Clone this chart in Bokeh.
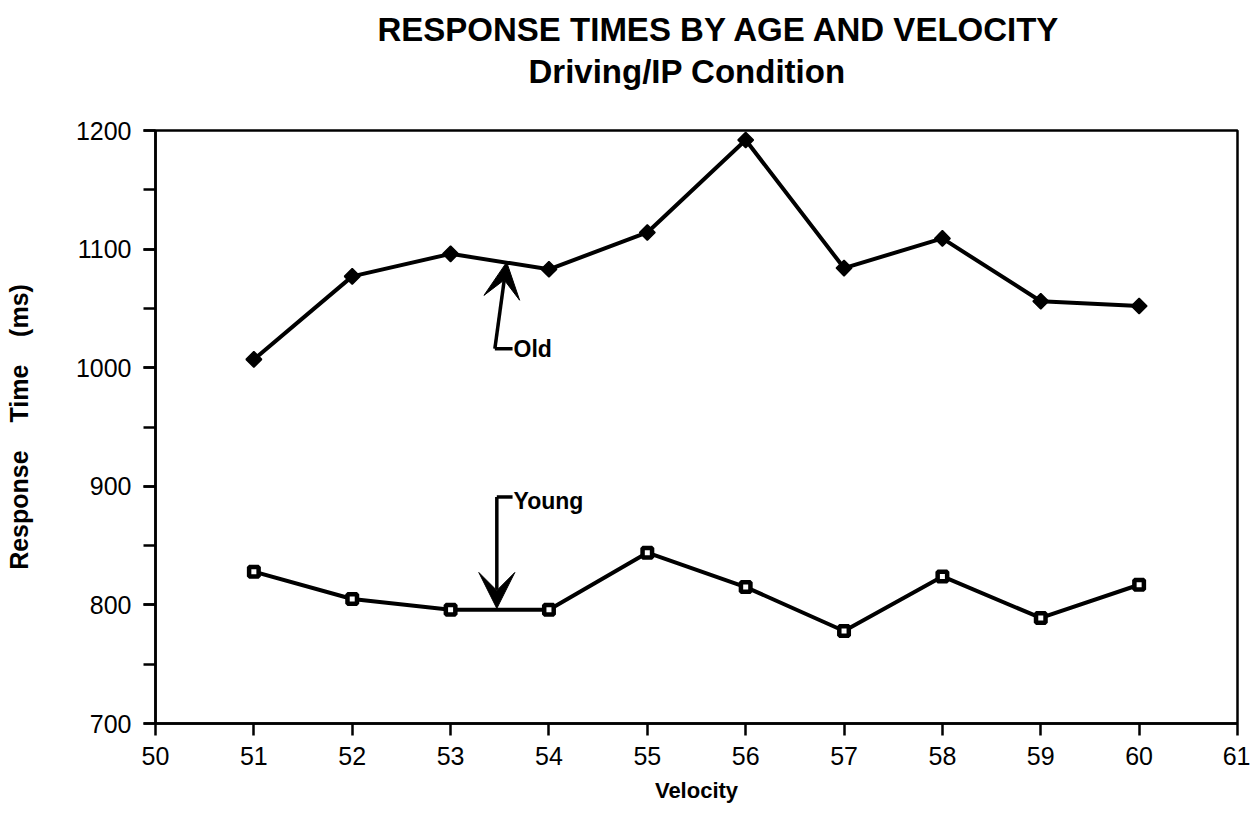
from bokeh.plotting import figure
from bokeh.models import Title, Arrow, VeeHead, Label, SingleIntervalTicker, ColumnDataSource
from bokeh.embed import file_html
from bokeh.resources import INLINE

# ---- data ----
velocity = [51, 52, 53, 54, 55, 56, 57, 58, 59, 60]
old_rt = [1007, 1077, 1096, 1083, 1114, 1192, 1084, 1109, 1056, 1052]
young_rt = [828, 805, 796, 796, 844, 815, 778, 824, 789, 817]
x_ticks = [50, 51, 52, 53, 54, 55, 56, 57, 58, 59, 60, 61]
y_ticks = [700, 800, 900, 1000, 1100, 1200]

title_line1 = "RESPONSE TIMES BY AGE AND VELOCITY"
title_line2 = "Driving/IP Condition"

FONT = "Liberation Sans"

p = figure(
    title=None,
    x_range=(50, 61), y_range=(700, 1200),
    frame_width=1082, frame_height=593,
    min_border_left=155, min_border_right=13,
    min_border_top=130, min_border_bottom=97,
    output_backend="svg", toolbar_location=None,
    background_fill_color="white", border_fill_color="white",
)

# heading lines (sub-title first: closest to the frame)
p.add_layout(Title(text=title_line2, align="left", offset=373,
                   text_font=FONT, text_font_size="33px", text_font_style="bold",
                   text_color="black", standoff=82), "above")
p.add_layout(Title(text=title_line1, align="left", offset=222,
                   text_font=FONT, text_font_size="33px", text_font_style="bold",
                   text_color="black", standoff=-76), "above")

p.grid.visible = False
p.outline_line_color = "black"
p.outline_line_width = 2.5

# x axis
xa = p.below[0]
xa.ticker = x_ticks
xa.axis_label = "Velocity"
xa.axis_label_text_font = FONT
xa.axis_label_text_font_size = "22px"
xa.axis_label_text_font_style = "bold"
xa.axis_label_standoff = 10
xa.major_label_text_font = FONT
xa.major_label_text_font_size = "25px"
xa.major_label_standoff = 11
xa.major_tick_out = 12
xa.major_tick_in = 0
xa.minor_tick_out = 0
xa.minor_tick_in = 0
xa.axis_line_width = 2.5
xa.major_tick_line_width = 2.5

# y axis
ya = p.left[0]
ya.ticker = SingleIntervalTicker(interval=100, num_minor_ticks=2)
ya.axis_label = "Response\u00a0\u00a0\u00a0\u00a0Time\u00a0\u00a0\u00a0\u00a0(ms)"
ya.axis_label_text_font = FONT
ya.axis_label_text_font_size = "25px"
ya.axis_label_text_font_style = "bold"
ya.axis_label_standoff = 40
ya.major_label_text_font = FONT
ya.major_label_text_font_size = "25px"
ya.major_label_standoff = 12
ya.major_tick_out = 12
ya.major_tick_in = 0
ya.minor_tick_out = 12
ya.minor_tick_in = 0
ya.axis_line_width = 2.5
ya.major_tick_line_width = 2.5
ya.minor_tick_line_width = 2.5
ya.minor_tick_line_color = "black"

for ax in (xa, ya):
    ax.axis_line_color = "black"
    ax.major_tick_line_color = "black"
    ax.major_label_text_color = "black"
    ax.axis_label_text_color = "black"

src = ColumnDataSource(dict(v=velocity, old=old_rt, young=young_rt))

# Old series: line + filled diamonds
p.line("v", "old", source=src, line_color="black", line_width=4)
p.scatter("v", "old", source=src, marker="square", angle=0.7854, size=11,
          fill_color="black", line_color="black", line_width=1.5)

# Young series: line + open squares
p.line("v", "young", source=src, line_color="black", line_width=4)
p.scatter("v", "young", source=src, marker="square", size=9.5,
          fill_color="white", line_color="black", line_width=4.5)

# annotations
old_tail_x, old_tail_y = 53.45, 1016
old_tip_x, old_tip_y = 53.57, 1089
young_tail_x, young_tail_y = 53.47, 891
young_tip_x, young_tip_y = 53.47, 797
label_x = 53.64

p.line([label_x - 0.01, old_tail_x], [old_tail_y, old_tail_y], line_color="black", line_width=3.5)
p.add_layout(Arrow(x_start=old_tail_x, y_start=old_tail_y, x_end=old_tip_x, y_end=old_tip_y,
                   line_color="black", line_width=3.5,
                   end=VeeHead(size=36, fill_color="black", line_color="black", line_width=1)))
p.add_layout(Label(x=label_x, y=old_tail_y, text="Old", text_font=FONT, text_font_size="23px",
                   text_font_style="bold", text_baseline="middle", text_color="black"))

p.line([label_x - 0.01, young_tail_x], [young_tail_y, young_tail_y], line_color="black", line_width=3.5)
p.add_layout(Arrow(x_start=young_tail_x, y_start=young_tail_y, x_end=young_tip_x, y_end=young_tip_y,
                   line_color="black", line_width=3.5,
                   end=VeeHead(size=36, fill_color="black", line_color="black", line_width=1)))
p.add_layout(Label(x=label_x, y=young_tail_y - 3, text="Young", text_font=FONT, text_font_size="23px",
                   text_font_style="bold", text_baseline="middle", text_color="black"))

open("out.html", "w").write(file_html(p, INLINE))
